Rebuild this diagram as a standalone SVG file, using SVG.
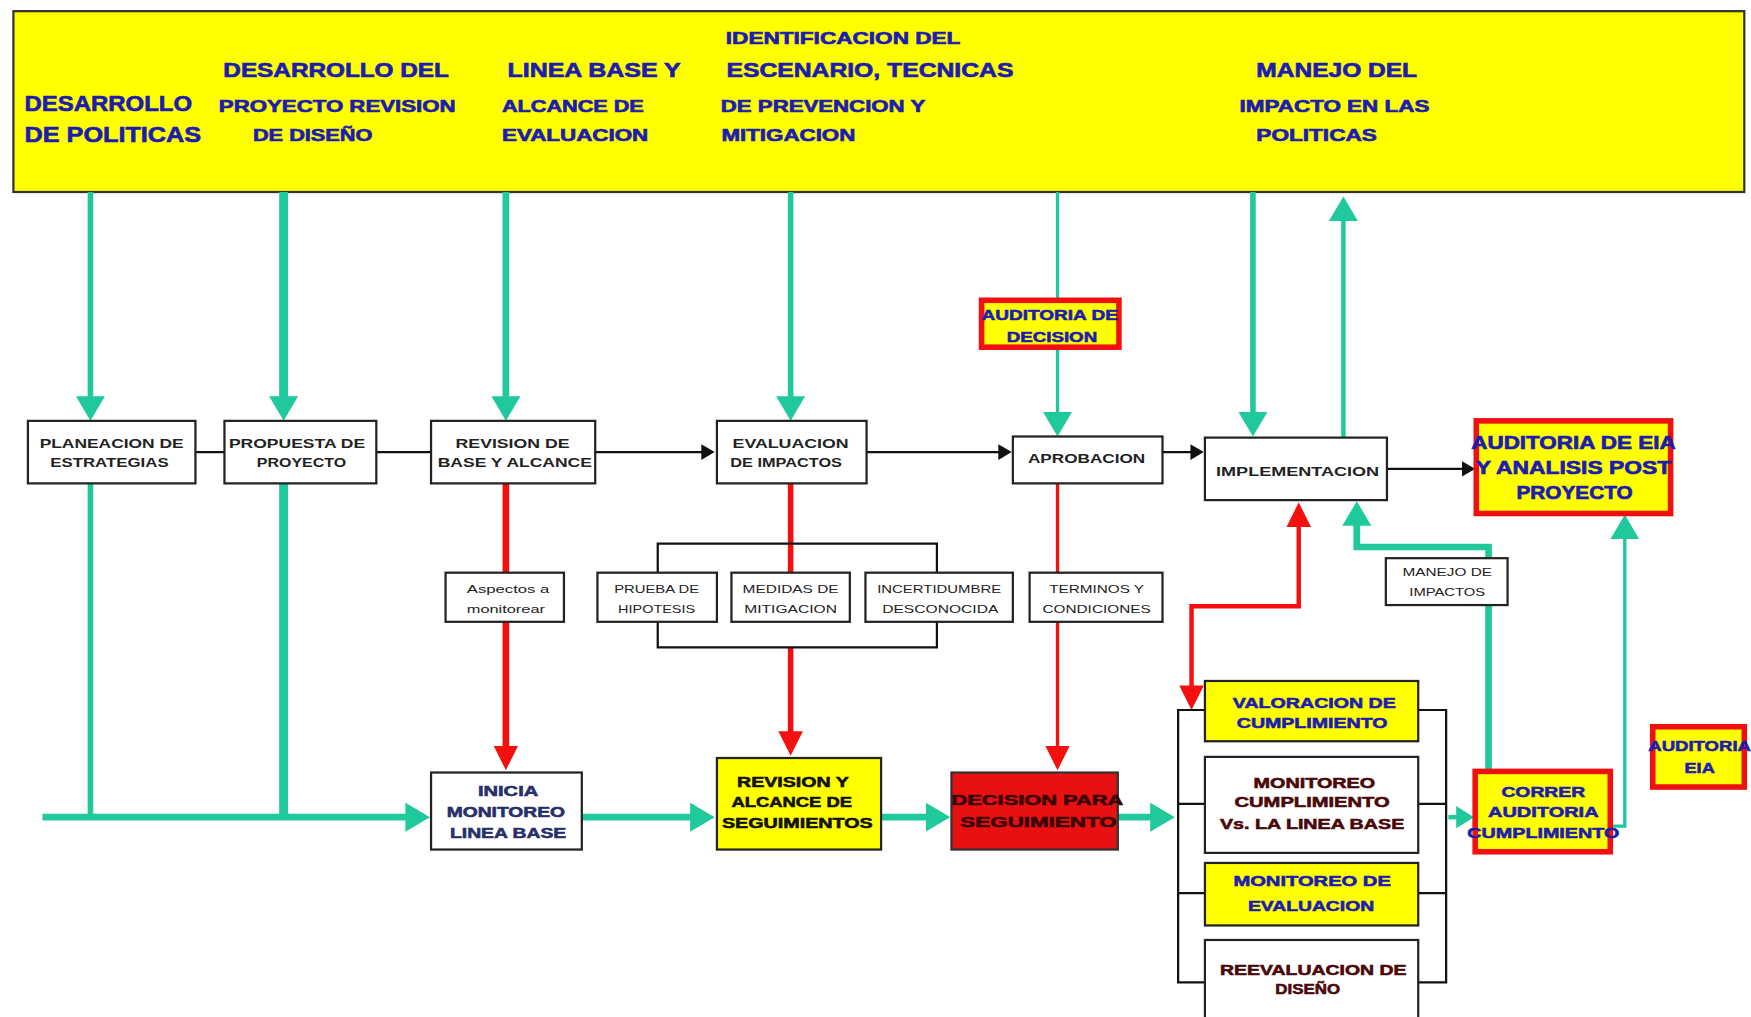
<svg xmlns="http://www.w3.org/2000/svg" width="1751" height="1017" viewBox="0 0 1751 1017">
<defs>
<style>
.bx{fill:#fff;stroke:#222;stroke-width:2}
.yb{fill:#ffff00;stroke:#222;stroke-width:2}
.rb{fill:#ffff00;stroke:#f01010;stroke-width:5}
.rd{fill:#e81010;stroke:#333;stroke-width:2}
.ht{font-family:"Liberation Sans",Arial,sans-serif;font-weight:bold;fill:#1c1cb0;stroke:#1c1cb0;stroke-width:0.6px;text-anchor:middle}
.nt{font-family:"Liberation Sans",Arial,sans-serif;font-weight:bold;fill:#222;text-anchor:middle;font-size:11.5px}
.st{font-family:"Liberation Sans",Arial,sans-serif;fill:#222;text-anchor:middle;font-size:10.5px}
.bt{font-family:"Liberation Sans",Arial,sans-serif;font-weight:bold;fill:#1c1cb0;stroke:#1c1cb0;stroke-width:0.5px;text-anchor:middle;font-size:13px}
.dt{font-family:"Liberation Sans",Arial,sans-serif;font-weight:bold;fill:#4a0808;stroke:#4a0808;stroke-width:0.5px;text-anchor:middle;font-size:13px}
.gl{fill:none;stroke:#1fc99b}
.rl{fill:none;stroke:#f51010}
.kl{fill:none;stroke:#111;stroke-width:2}
</style>
<marker id="gA" markerUnits="userSpaceOnUse" markerWidth="22" markerHeight="26" refX="1" refY="13" orient="auto" viewBox="0 0 22 26"><path d="M0,0 L22,13 L0,26 z" fill="#1fc99b"/></marker>
<marker id="gS" markerUnits="userSpaceOnUse" markerWidth="16" markerHeight="20" refX="1" refY="10" orient="auto" viewBox="0 0 16 20"><path d="M0,0 L16,10 L0,20 z" fill="#1fc99b"/></marker>
<marker id="rA" markerUnits="userSpaceOnUse" markerWidth="22" markerHeight="22" refX="1" refY="11" orient="auto-start-reverse" viewBox="0 0 22 22"><path d="M0,0 L22,11 L0,22 z" fill="#f51010"/></marker>
<marker id="kA" markerUnits="userSpaceOnUse" markerWidth="12" markerHeight="14" refX="1" refY="7" orient="auto" viewBox="0 0 12 14"><path d="M0,0 L12,7 L0,14 z" fill="#111"/></marker>
</defs>
<rect width="1751" height="1017" fill="#fff"/>
<g transform="scale(1.11671,1.11635)">

<g id="banner">
<rect x="12" y="10" width="1550" height="162" fill="#ffff00" stroke="#333" stroke-width="2"/>
<text class="ht" x="97" y="99" font-size="20" textLength="150" lengthAdjust="spacingAndGlyphs">DESARROLLO</text>
<text class="ht" x="101" y="127" font-size="20" textLength="158" lengthAdjust="spacingAndGlyphs">DE POLITICAS</text>
<text class="ht" x="301" y="69" font-size="18" textLength="202" lengthAdjust="spacingAndGlyphs">DESARROLLO DEL</text>
<text class="ht" x="302" y="100" font-size="15" textLength="212" lengthAdjust="spacingAndGlyphs">PROYECTO REVISION</text>
<text class="ht" x="280" y="126" font-size="15" textLength="107" lengthAdjust="spacingAndGlyphs">DE DISEÑO</text>
<text class="ht" x="532" y="69" font-size="18" textLength="155" lengthAdjust="spacingAndGlyphs">LINEA BASE Y</text>
<text class="ht" x="513" y="100" font-size="15" textLength="127" lengthAdjust="spacingAndGlyphs">ALCANCE DE</text>
<text class="ht" x="515" y="126" font-size="15" textLength="131" lengthAdjust="spacingAndGlyphs">EVALUACION</text>
<text class="ht" x="755" y="39" font-size="15" textLength="210" lengthAdjust="spacingAndGlyphs">IDENTIFICACION DEL</text>
<text class="ht" x="779" y="69" font-size="18" textLength="257" lengthAdjust="spacingAndGlyphs">ESCENARIO, TECNICAS</text>
<text class="ht" x="737" y="100" font-size="15" textLength="183" lengthAdjust="spacingAndGlyphs">DE PREVENCION Y</text>
<text class="ht" x="706" y="126" font-size="15" textLength="120" lengthAdjust="spacingAndGlyphs">MITIGACION</text>
<text class="ht" x="1197" y="69" font-size="18" textLength="144" lengthAdjust="spacingAndGlyphs">MANEJO DEL</text>
<text class="ht" x="1195" y="100" font-size="15" textLength="170" lengthAdjust="spacingAndGlyphs">IMPACTO EN LAS</text>
<text class="ht" x="1179" y="126" font-size="15" textLength="108" lengthAdjust="spacingAndGlyphs">POLITICAS</text>
</g>

<g id="connectors">
<path class="gl" stroke-width="5" d="M81,172 V356" marker-end="url(#gA)"/>
<path class="gl" stroke-width="8" d="M254,172 V356" marker-end="url(#gA)"/>
<path class="gl" stroke-width="6" d="M453,172 V356" marker-end="url(#gA)"/>
<path class="gl" stroke-width="5" d="M708,172 V356" marker-end="url(#gA)"/>
<path class="gl" stroke-width="3" d="M947,172 V268"/>
<path class="gl" stroke-width="3" d="M947,312 V370" marker-end="url(#gA)"/>
<path class="gl" stroke-width="5" d="M1122,172 V370" marker-end="url(#gA)"/>
<path class="gl" stroke-width="4" d="M1203,392 V197" marker-end="url(#gA)"/>
<path class="gl" stroke-width="5" d="M81,433 V732"/>
<path class="gl" stroke-width="8" d="M254,433 V732"/>
<path class="gl" stroke-width="6" d="M38,732 H364" marker-end="url(#gA)"/>
<path class="gl" stroke-width="6" d="M521,732 H619" marker-end="url(#gA)"/>
<path class="gl" stroke-width="6" d="M789,732 H830" marker-end="url(#gA)"/>
<path class="gl" stroke-width="6" d="M1001,732 H1031" marker-end="url(#gA)"/>
<path class="gl" stroke-width="4" d="M1297,732 H1305" marker-end="url(#gS)"/>
<path class="gl" stroke-width="6" d="M1333,690 V490 H1215 V470" marker-end="url(#gA)"/>
<path class="gl" stroke-width="3" d="M1443,740 H1455 V482" marker-end="url(#gA)"/>
<path class="kl" d="M175,405 H201"/>
<path class="kl" d="M337,405 H386"/>
<path class="kl" d="M533,405 H629" marker-end="url(#kA)"/>
<path class="kl" d="M776,405 H895" marker-end="url(#kA)"/>
<path class="kl" d="M1041,405 H1067" marker-end="url(#kA)"/>
<path class="kl" d="M1242,420 H1310" marker-end="url(#kA)"/>
<path class="rl" stroke-width="6" d="M453,433 V513"/>
<path class="rl" stroke-width="6" d="M453,557 V669" marker-end="url(#rA)"/>
<path class="rl" stroke-width="5" d="M708,433 V513"/>
<path class="rl" stroke-width="5" d="M708,580 V656" marker-end="url(#rA)"/>
<path class="rl" stroke-width="3" d="M947,433 V513"/>
<path class="rl" stroke-width="3" d="M947,557 V669" marker-end="url(#rA)"/>
<path class="rl" stroke-width="4" d="M1067,615 V543 H1163 V471" marker-start="url(#rA)" marker-end="url(#rA)"/>
<path class="kl" d="M589,513 V487 H839 V513"/>
<path class="kl" d="M589,557 V580 H839 V557"/>
<path class="kl" d="M1080,636 H1055 V880 H1080 M1055,720 H1080 M1055,800 H1080"/>
<path class="kl" d="M1270,636 H1295 V880 H1270 M1270,720 H1295 M1270,800 H1295"/>
</g>

<g id="planeacion"><rect class="bx" x="25" y="377" width="150" height="56"/>
<text class="nt" x="100" y="401" textLength="129" lengthAdjust="spacingAndGlyphs">PLANEACION DE</text>
<text class="nt" x="98" y="418" textLength="106" lengthAdjust="spacingAndGlyphs">ESTRATEGIAS</text></g>

<g id="propuesta"><rect class="bx" x="201" y="377" width="136" height="56"/>
<text class="nt" x="266" y="401" textLength="122" lengthAdjust="spacingAndGlyphs">PROPUESTA DE</text>
<text class="nt" x="270" y="418" textLength="80" lengthAdjust="spacingAndGlyphs">PROYECTO</text></g>

<g id="revision"><rect class="bx" x="386" y="377" width="147" height="56"/>
<text class="nt" x="459" y="401" textLength="102" lengthAdjust="spacingAndGlyphs">REVISION DE</text>
<text class="nt" x="461" y="418" textLength="138" lengthAdjust="spacingAndGlyphs">BASE Y ALCANCE</text></g>

<g id="evaluacion"><rect class="bx" x="642" y="377" width="134" height="56"/>
<text class="nt" x="708" y="401" textLength="104" lengthAdjust="spacingAndGlyphs">EVALUACION</text>
<text class="nt" x="704" y="418" textLength="100" lengthAdjust="spacingAndGlyphs">DE IMPACTOS</text></g>

<g id="aprobacion"><rect class="bx" x="907" y="391" width="134" height="42"/>
<text class="nt" x="973" y="415" textLength="105" lengthAdjust="spacingAndGlyphs">APROBACION</text></g>

<g id="implementacion"><rect class="bx" x="1079" y="392" width="163" height="56"/>
<text class="nt" x="1162" y="426" font-size="13" textLength="146" lengthAdjust="spacingAndGlyphs">IMPLEMENTACION</text></g>

<g id="auditoria-post"><rect class="rb" x="1322" y="377" width="174" height="83"/>
<text class="ht" x="1409" y="402" font-size="16" textLength="183" lengthAdjust="spacingAndGlyphs">AUDITORIA DE EIA</text>
<text class="ht" x="1409" y="425" font-size="16" textLength="175" lengthAdjust="spacingAndGlyphs">Y ANALISIS POST</text>
<text class="ht" x="1410" y="447" font-size="16" textLength="104" lengthAdjust="spacingAndGlyphs">PROYECTO</text></g>

<g id="auditoria-decision"><rect class="rb" x="879" y="269" width="123" height="42" stroke-width="4"/>
<text class="bt" x="940" y="287" textLength="122" lengthAdjust="spacingAndGlyphs">AUDITORIA DE</text>
<text class="bt" x="942" y="306" textLength="81" lengthAdjust="spacingAndGlyphs">DECISION</text></g>

<g id="aspectos"><rect class="bx" x="399" y="513" width="106" height="44"/>
<text class="st" x="455" y="531" textLength="74" lengthAdjust="spacingAndGlyphs">Aspectos a</text>
<text class="st" x="453" y="549" textLength="70" lengthAdjust="spacingAndGlyphs">monitorear</text></g>

<g id="prueba"><rect class="bx" x="535" y="513" width="107" height="44"/>
<text class="st" x="588" y="531" textLength="76" lengthAdjust="spacingAndGlyphs">PRUEBA DE</text>
<text class="st" x="588" y="549" textLength="69" lengthAdjust="spacingAndGlyphs">HIPOTESIS</text></g>

<g id="medidas"><rect class="bx" x="655" y="513" width="106" height="44"/>
<text class="st" x="708" y="531" textLength="86" lengthAdjust="spacingAndGlyphs">MEDIDAS DE</text>
<text class="st" x="708" y="549" textLength="83" lengthAdjust="spacingAndGlyphs">MITIGACION</text></g>

<g id="incertidumbre"><rect class="bx" x="775" y="513" width="132" height="44"/>
<text class="st" x="841" y="531" textLength="111" lengthAdjust="spacingAndGlyphs">INCERTIDUMBRE</text>
<text class="st" x="842" y="549" textLength="104" lengthAdjust="spacingAndGlyphs">DESCONOCIDA</text></g>

<g id="terminos"><rect class="bx" x="922" y="513" width="119" height="44"/>
<text class="st" x="982" y="531" textLength="85" lengthAdjust="spacingAndGlyphs">TERMINOS Y</text>
<text class="st" x="982" y="549" textLength="97" lengthAdjust="spacingAndGlyphs">CONDICIONES</text></g>

<g id="manejo"><rect class="bx" x="1241" y="500" width="109" height="42"/>
<text class="st" x="1296" y="516" textLength="80" lengthAdjust="spacingAndGlyphs">MANEJO DE</text>
<text class="st" x="1296" y="534" textLength="68" lengthAdjust="spacingAndGlyphs">IMPACTOS</text></g>

<g id="inicia"><rect class="bx" x="386" y="692" width="135" height="69"/>
<text class="bt" x="455" y="713" style="fill:#27306a;stroke:#27306a" textLength="54" lengthAdjust="spacingAndGlyphs">INICIA</text>
<text class="bt" x="453" y="732" style="fill:#27306a;stroke:#27306a" textLength="106" lengthAdjust="spacingAndGlyphs">MONITOREO</text>
<text class="bt" x="455" y="751" style="fill:#27306a;stroke:#27306a" textLength="104" lengthAdjust="spacingAndGlyphs">LINEA BASE</text></g>

<g id="revision-seguimientos"><rect class="yb" x="642" y="679" width="147" height="82"/>
<text class="dt" x="710" y="705" style="fill:#111;stroke:#111" textLength="100" lengthAdjust="spacingAndGlyphs">REVISION Y</text>
<text class="dt" x="709" y="723" style="fill:#111;stroke:#111" textLength="108" lengthAdjust="spacingAndGlyphs">ALCANCE DE</text>
<text class="dt" x="714" y="742" style="fill:#111;stroke:#111" textLength="135" lengthAdjust="spacingAndGlyphs">SEGUIMIENTOS</text></g>

<g id="decision"><rect class="rd" x="852" y="692" width="149" height="69"/>
<text class="dt" x="929" y="721" font-size="15" style="fill:#3a0000;stroke:#3a0000" textLength="154" lengthAdjust="spacingAndGlyphs">DECISION PARA</text>
<text class="dt" x="930" y="741" font-size="15" style="fill:#3a0000;stroke:#3a0000" textLength="140" lengthAdjust="spacingAndGlyphs">SEGUIMIENTO</text></g>

<g id="valoracion"><rect class="yb" x="1079" y="610" width="191" height="54"/>
<text class="bt" x="1177" y="634" textLength="146" lengthAdjust="spacingAndGlyphs">VALORACION DE</text>
<text class="bt" x="1175" y="652" textLength="135" lengthAdjust="spacingAndGlyphs">CUMPLIMIENTO</text></g>

<g id="monitoreo-cumplimiento"><rect class="bx" x="1079" y="678" width="191" height="86"/>
<text class="dt" x="1177" y="706" textLength="109" lengthAdjust="spacingAndGlyphs">MONITOREO</text>
<text class="dt" x="1175" y="723" textLength="139" lengthAdjust="spacingAndGlyphs">CUMPLIMIENTO</text>
<text class="dt" x="1175" y="743" textLength="165" lengthAdjust="spacingAndGlyphs">Vs. LA LINEA BASE</text></g>

<g id="monitoreo-evaluacion"><rect class="yb" x="1079" y="773" width="191" height="56"/>
<text class="bt" x="1175" y="794" textLength="141" lengthAdjust="spacingAndGlyphs">MONITOREO DE</text>
<text class="bt" x="1174" y="816" textLength="113" lengthAdjust="spacingAndGlyphs">EVALUACION</text></g>

<g id="reevaluacion"><rect class="bx" x="1079" y="842" width="191" height="70"/>
<text class="dt" x="1176" y="873" textLength="167" lengthAdjust="spacingAndGlyphs">REEVALUACION DE</text>
<text class="dt" x="1171" y="890" textLength="58" lengthAdjust="spacingAndGlyphs">DISEÑO</text></g>

<g id="correr"><rect class="rb" x="1321" y="691" width="121" height="72"/>
<text class="bt" x="1382" y="714" textLength="75" lengthAdjust="spacingAndGlyphs">CORRER</text>
<text class="bt" x="1382" y="732" textLength="99" lengthAdjust="spacingAndGlyphs">AUDITORIA</text>
<text class="bt" x="1382" y="751" textLength="136" lengthAdjust="spacingAndGlyphs">CUMPLIMIENTO</text></g>

<g id="auditoria-eia"><rect class="rb" x="1480" y="651" width="82" height="54" stroke-width="4"/>
<text class="bt" x="1522" y="673" textLength="92" lengthAdjust="spacingAndGlyphs">AUDITORIA</text>
<text class="bt" x="1522" y="692" textLength="27" lengthAdjust="spacingAndGlyphs">EIA</text></g>

</g>
</svg>
